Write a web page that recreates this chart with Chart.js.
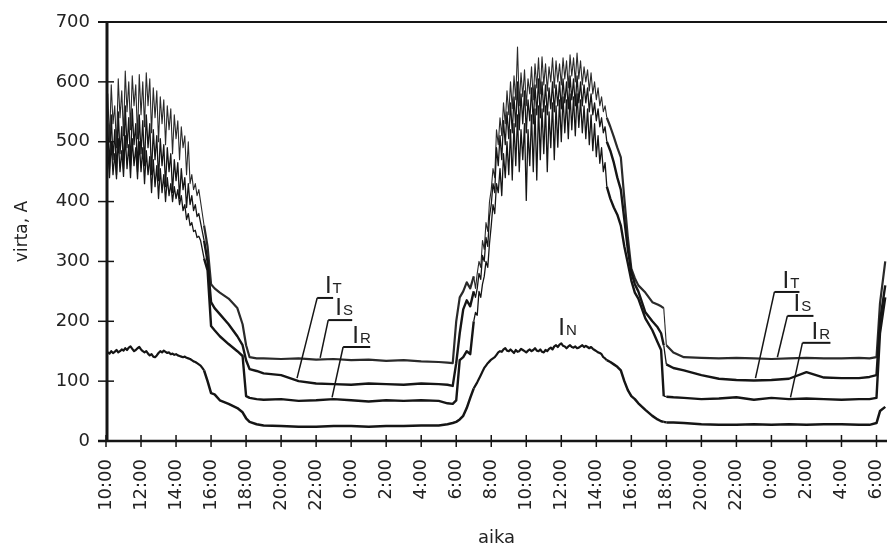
<!DOCTYPE html>
<html>
<head>
<meta charset="utf-8">
<title>virta</title>
<script src="https://cdn.jsdelivr.net/npm/chart.js@4.4.1/dist/chart.umd.min.js"></script>
<style>
  html, body { margin: 0; padding: 0; background: #fff; }
</style>
</head>
<body>
<canvas id="virtaChart" width="887" height="554"></canvas>
<script>
// time axis in hours counted from 10:00 on the first day
const hours = [
    0.0, 0.1, 0.2, 0.3, 0.4, 0.5, 0.6, 0.7, 0.8, 0.9,
    1.0, 1.1, 1.2, 1.3, 1.4, 1.5, 1.6, 1.7, 1.8, 1.9,
    2.0, 2.1, 2.2, 2.3, 2.4, 2.5, 2.6, 2.7, 2.8, 2.9,
    3.0, 3.1, 3.2, 3.3, 3.4, 3.5, 3.6, 3.7, 3.8, 3.9,
    4.0, 4.1, 4.2, 4.3, 4.4, 4.5, 4.6, 4.7, 4.8, 4.9,
    5.0, 5.1, 5.2, 5.3, 5.4, 5.5, 5.6,
    5.8, 6.0,
    6.2, 6.5, 7.0, 7.5, 7.8, 8.0, 8.2, 8.6,
    9, 10, 11, 12, 13, 14, 15, 16, 17, 18, 19, 19.5, 19.8,
    20.0, 20.2, 20.4, 20.6, 20.8,
    21.0, 21.1, 21.2, 21.3, 21.4, 21.5, 21.6, 21.7, 21.8, 21.9,
    22.0, 22.1, 22.2, 22.3, 22.4, 22.5, 22.6, 22.7, 22.8, 22.9,
    23.0, 23.1, 23.2, 23.3, 23.4, 23.5, 23.6, 23.7, 23.8, 23.9,
    24.0, 24.1, 24.2, 24.3, 24.4, 24.5, 24.6, 24.7, 24.8, 24.9,
    25.0, 25.1, 25.2, 25.3, 25.4, 25.5, 25.6, 25.7, 25.8, 25.9,
    26.0, 26.1, 26.2, 26.3, 26.4, 26.5, 26.6, 26.7, 26.8, 26.9,
    27.0, 27.1, 27.2, 27.3, 27.4, 27.5, 27.6, 27.7, 27.8, 27.9,
    28.0, 28.1, 28.2, 28.3, 28.4, 28.5, 28.6,
    28.8, 29.0, 29.2, 29.4, 29.6, 29.8, 30.0, 30.2, 30.4,
    30.8, 31.2, 31.5, 31.7, 31.85, 32.0, 32.4,
    33, 34, 35, 36, 37, 38, 39, 40, 41, 42, 43, 43.6, 44.0, 44.2, 44.5
];

const currentT = [
    520, 580, 500, 595, 530, 560, 490, 605, 540, 585,
    510, 618, 550, 600, 520, 610, 560, 595, 505, 612,
    545, 600, 525, 615, 560, 605, 515, 590, 540, 585,
    500, 575, 530, 570, 495, 560, 520, 555, 480, 545,
    505, 535, 470, 525, 490, 510, 445, 500, 430, 445,
    420, 430, 410, 420, 400, 380, 360,
    325, 262,
    255, 248, 238, 222, 195, 160, 140, 138,
    138, 137, 138, 136, 137, 135, 136, 134, 135, 133, 132, 131, 130,
    200, 240, 250, 265, 255,
    275, 255, 280, 300, 290, 335, 320, 365, 350, 400,
    420, 455, 440, 520, 495, 540, 510, 565, 530, 585,
    545, 600, 555, 610, 570, 658, 560, 615, 575, 620,
    560, 605, 580, 625, 570, 630, 590, 640, 580, 642,
    595, 630, 585, 625, 600, 640, 590, 635, 600, 630,
    595, 640, 605, 635, 590, 645, 610, 640, 600, 648,
    605, 635, 595, 625, 600, 620, 585, 615, 580, 600,
    570, 590, 560, 575, 550, 560, 540,
    525, 508, 490, 474, 405, 340, 288, 272, 260,
    248, 232, 228, 225, 222, 160, 148,
    140, 139, 138, 139, 138, 137, 138, 139, 138, 138, 139, 138, 140, 230, 300
];

const currentS = [
    480, 530, 455, 545, 470, 520, 445, 550, 480, 525,
    455, 560, 490, 540, 460, 555, 495, 530, 450, 545,
    480, 535, 460, 545, 490, 530, 445, 520, 470, 510,
    435, 505, 460, 495, 425, 490, 450, 480, 415, 470,
    435, 465, 405, 455, 420, 440, 390, 430, 395, 410,
    385, 395, 375, 380, 365, 350, 335,
    300, 232,
    222, 212, 195, 175, 160, 135, 120, 117,
    113, 110, 100, 96, 95, 94, 96, 95, 94, 96, 95, 94, 92,
    130, 180, 220, 235, 225,
    250, 240, 255, 280, 270, 310, 300, 340, 325, 375,
    395, 430, 415, 490, 460, 510, 470, 535, 495, 550,
    505, 565, 515, 575, 525, 600, 520, 580, 530, 585,
    515, 570, 535, 590, 530, 595, 545, 605, 540, 600,
    550, 595, 545, 590, 555, 600, 550, 595, 560, 600,
    555, 605, 565, 600, 555, 610, 570, 605, 560, 610,
    565, 600, 560, 595, 565, 590, 550, 580, 545, 565,
    535, 555, 525, 540, 515, 525, 500,
    485, 465, 440, 420, 370, 320, 282, 262, 250,
    215, 200, 190, 180, 160, 128, 122,
    118, 110, 104, 102, 101, 102, 104, 115, 106, 105, 105, 107, 110, 200, 260
];

const currentR = [
    450, 490, 440, 500, 445, 480, 438, 505, 450, 485,
    442, 510, 455, 495, 440, 505, 460, 490, 438, 500,
    450, 490, 430, 485, 445, 475, 415, 470, 425, 460,
    405, 455, 415, 445, 400, 440, 410, 430, 400, 425,
    405, 420, 395, 410, 385, 395, 370, 380, 360, 365,
    350, 352, 340, 342, 335, 320, 305,
    285, 192,
    185, 175, 162, 150, 142, 75, 72, 70,
    69, 70, 67, 68, 70, 68, 66, 68, 67, 68, 67, 63, 62,
    68, 135, 140, 150, 145,
    200, 215, 210, 250, 240, 262, 275, 300, 290, 330,
    360, 395, 380, 430, 415, 455, 410, 480, 440, 500,
    445, 520, 436, 530, 460, 545, 450, 520, 470, 530,
    402, 520, 460, 545, 450, 555, 436, 560, 470, 555,
    480, 560, 450, 550, 490, 565, 470, 560, 491, 570,
    500, 575, 515, 570, 505, 580, 520, 575, 510, 580,
    524, 570, 515, 560, 505, 555, 495, 545, 485, 530,
    475, 510, 464, 490, 450, 465, 425,
    405, 390, 378, 360, 325, 297, 268, 248, 238,
    205, 185, 165, 152, 75, 74, 73,
    72, 70, 71, 73, 69, 72, 70, 71, 70, 69, 70, 70, 72, 180, 240
];

const currentN = [
    145, 148, 146, 150, 147, 149, 152, 148, 150, 153,
    151, 155, 152, 156, 158, 154, 150, 152, 155, 157,
    153, 150, 148, 150, 146, 143, 145, 141, 140, 143,
    147, 150, 148, 151, 149, 147, 148, 145, 146, 144,
    145, 143, 142, 141, 140, 141, 139, 138, 137, 135,
    133, 132, 130, 128, 126, 122, 118,
    100, 80,
    78, 68, 62, 55, 48, 38, 32, 28,
    26, 25, 24, 24, 25, 25, 24, 25, 25, 26, 26, 28, 30,
    32, 36, 42, 55, 72,
    88, 93, 98, 104, 110, 116, 122, 126, 130, 133,
    136, 138, 140, 144, 148, 150, 149, 153, 155, 151,
    150, 153, 150, 147, 152, 149, 150, 154, 152, 150,
    148, 151, 153, 150, 152, 155, 151, 150, 153, 149,
    148, 152, 150, 154, 156, 153, 158, 160, 157, 161,
    163, 159, 158, 155, 158, 160, 157, 156, 158, 155,
    156, 158, 160, 157, 159, 157, 155, 157, 154, 152,
    150, 148, 147, 145, 140, 138, 135,
    132, 128, 124, 118, 100, 85, 75, 70, 63,
    52, 42, 36, 33, 32, 31, 31,
    30, 28, 27, 27, 28, 27, 28, 27, 28, 28, 27, 27, 30, 50, 57
];

const timeLabels = [
    "10:00", "12:00", "14:00", "16:00", "18:00", "20:00", "22:00", "0:00", "2:00", "4:00", "6:00",
    "8:00", "10:00", "12:00", "14:00", "16:00", "18:00", "20:00", "22:00", "0:00", "2:00", "4:00", "6:00"
];

// phase labels: text anchor, the short rule under it, and where the leader ends (hours, amperes)
const phaseLabels = [
    { sub: "T", at: [12.5, 247], rule: [12.06, 12.97, 239], tip: [10.91, 105] },
    { sub: "S", at: [13.09, 210], rule: [12.69, 14.06, 202], tip: [12.23, 139] },
    { sub: "R", at: [14.06, 164], rule: [13.54, 15.09, 157], tip: [12.91, 73] },
    { sub: "T", at: [38.63, 255], rule: [38.17, 39.6, 249], tip: [37.09, 105] },
    { sub: "S", at: [39.26, 217], rule: [38.91, 40.4, 209], tip: [38.34, 140] },
    { sub: "R", at: [40.29, 170], rule: [39.77, 41.37, 164], tip: [39.09, 73] },
    { sub: "N", at: [25.83, 177] }
];

const INK = "#151515";
const TEXT = "#222";

function toPoints(values) {
    return hours.map((h, i) => ({ x: h, y: values[i] }));
}

function strokeLine(ctx, x1, y1, x2, y2) {
    ctx.beginPath();
    ctx.moveTo(x1, y1);
    ctx.lineTo(x2, y2);
    ctx.stroke();
}

const framePlugin = {
    id: "frame",
    afterDraw(chart) {
        const { ctx, chartArea: a, scales: { x, y } } = chart;
        ctx.save();
        ctx.strokeStyle = INK;

        // rules at 0 and 700 run from the y tick to the right edge
        ctx.lineWidth = 2;
        strokeLine(ctx, a.left - 8, a.top, chart.width, a.top);
        ctx.lineWidth = 2.5;
        strokeLine(ctx, a.left - 8, a.bottom, chart.width, a.bottom);
        ctx.lineWidth = 3;
        strokeLine(ctx, a.left + 1, a.top, a.left + 1, a.bottom);

        // tick marks cross the axes
        ctx.lineWidth = 1.5;
        y.ticks.forEach(t => {
            const py = y.getPixelForValue(t.value);
            strokeLine(ctx, a.left - 8, py, a.left + 8, py);
        });
        x.ticks.forEach(t => {
            const px = x.getPixelForValue(t.value);
            strokeLine(ctx, px, a.bottom - 6, px, a.bottom + 6);
        });

        // phase labels with their leaders
        ctx.fillStyle = TEXT;
        ctx.textBaseline = "alphabetic";
        ctx.textAlign = "left";
        phaseLabels.forEach(lbl => {
            const tx = x.getPixelForValue(lbl.at[0]);
            const ty = y.getPixelForValue(lbl.at[1]);
            ctx.font = "24px 'Liberation Sans', Arial, sans-serif";
            ctx.fillText("I", tx, ty);
            const w = ctx.measureText("I").width;
            ctx.font = "15px 'Liberation Sans', Arial, sans-serif";
            ctx.fillText(lbl.sub, tx + w + 1, ty);

            if (lbl.rule) {
                const ry = y.getPixelForValue(lbl.rule[2]);
                const rx1 = x.getPixelForValue(lbl.rule[0]);
                const rx2 = x.getPixelForValue(lbl.rule[1]);
                ctx.lineWidth = 2;
                strokeLine(ctx, rx1, ry, rx2, ry);
                ctx.lineWidth = 1.5;
                strokeLine(ctx, rx1, ry, x.getPixelForValue(lbl.tip[0]), y.getPixelForValue(lbl.tip[1]));
            }
        });
        ctx.restore();
    }
};

// the fast daytime readings are logged densely; draw those strokes thinner
function series(values, wide, thin, color) {
    return {
        data: toPoints(values),
        borderColor: color,
        borderWidth: wide,
        pointRadius: 0,
        tension: 0,
        borderJoinStyle: "round",
        fill: false,
        segment: {
            borderWidth: c => (c.p1.parsed.x - c.p0.parsed.x < 0.15 ? thin : wide)
        }
    };
}

const tickFont = { family: "'DejaVu Sans', sans-serif", size: 18 };

new Chart(document.getElementById("virtaChart"), {
    type: "line",
    data: {
        datasets: [
            series(currentN, 2.5, 2.2, INK),
            series(currentR, 2.4, 1.3, INK),
            series(currentS, 2.4, 1.3, INK),
            series(currentT, 2.2, 1.1, "#2a2a2a")
        ]
    },
    options: {
        responsive: false,
        animation: false,
        layout: { padding: { top: 22, right: 0, bottom: 0, left: 0 } },
        plugins: {
            legend: { display: false },
            tooltip: { enabled: false }
        },
        scales: {
            x: {
                type: "linear",
                min: 0,
                max: 44.6,
                grid: { display: false, drawTicks: false },
                border: { display: false },
                ticks: {
                    stepSize: 2,
                    includeBounds: false,
                    autoSkip: false,
                    minRotation: 90,
                    maxRotation: 90,
                    padding: 18,
                    color: TEXT,
                    font: tickFont,
                    callback: v => timeLabels[v / 2] ?? ""
                },
                title: {
                    display: true,
                    text: "aika",
                    color: TEXT,
                    font: { family: "'DejaVu Sans', sans-serif", size: 18 },
                    padding: { top: 0, bottom: 5 }
                },
                afterFit(scale) {
                    scale.height = 113;
                    scale.paddingLeft = 0;
                    scale.paddingRight = 0;
                }
            },
            y: {
                min: 0,
                max: 700,
                grid: { display: false, drawTicks: false },
                border: { display: false },
                ticks: {
                    stepSize: 100,
                    padding: 16,
                    color: TEXT,
                    font: tickFont
                },
                title: {
                    display: true,
                    text: "virta, A",
                    color: TEXT,
                    font: { family: "'DejaVu Sans', sans-serif", size: 17 },
                    padding: { top: 12, bottom: 0 }
                },
                afterFit(scale) {
                    scale.width = 106;
                    scale.paddingTop = 0;
                    scale.paddingBottom = 0;
                }
            }
        }
    },
    plugins: [framePlugin]
});
</script>
</body>
</html>
